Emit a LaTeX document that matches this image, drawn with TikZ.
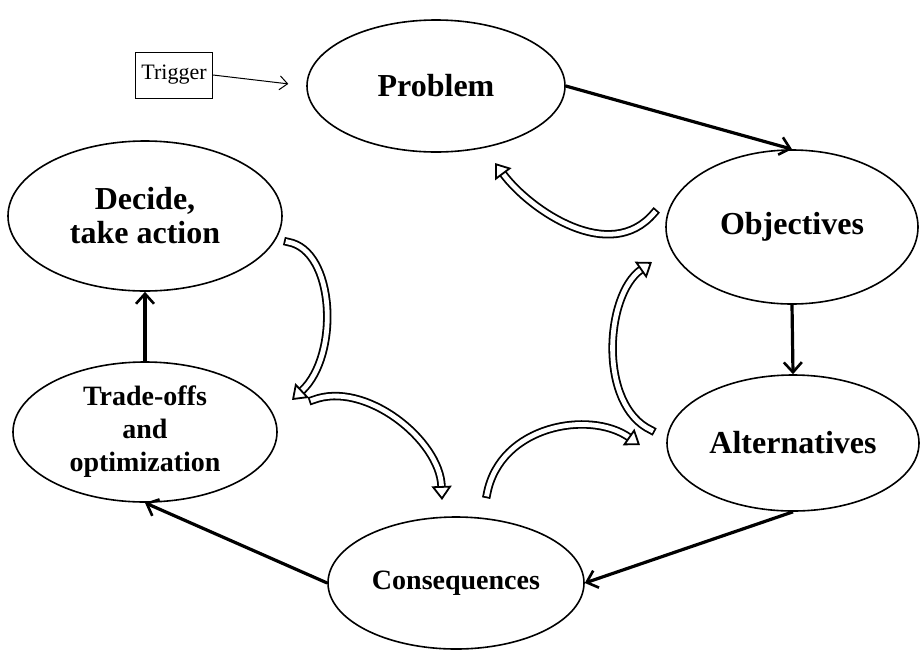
\documentclass[tikz,border=0pt]{standalone}
\usepackage{fontspec}
\setmainfont{Liberation Serif}
\usetikzlibrary{shapes.geometric,arrows.meta}

\tikzset{
  stage/.style={ellipse,draw,line width=0.8pt,inner sep=0pt,align=center,
    font=\bfseries\fontsize{16}{17}\selectfont},
  flow/.style={line width=1.6pt,-{Straight Barb[length=5pt,width=9pt,line width=1.3pt]}},
  hollow/.style={line width=0.9pt,line cap=rect,double=white,double distance=2.4pt,
    -{Triangle[open,fill=white,length=7pt,width=10pt,line width=0.9pt]}}
}

\begin{document}
\begin{tikzpicture}[x=0.5pt,y=-0.5pt]
\useasboundingbox (0,0) rectangle (920,654);

% Ellipses of the cycle
\node[stage,minimum width=129pt,minimum height=66pt] (problem) at (436,86) {Problem};
\node[stage,minimum width=126pt,minimum height=77pt] (objectives) at (792,227) {Objectives};
\node[stage,minimum width=126pt,minimum height=68pt] (alternatives) at (793,443) {Alternatives};
\node[stage,minimum width=128pt,minimum height=66pt,font=\bfseries\fontsize{14}{16}\selectfont] (consequences) at (456,583) {Consequences};
\node[stage,minimum width=132pt,minimum height=70pt,font=\bfseries\fontsize{14}{16.5}\selectfont] (tradeoffs) at (145,432) {Trade-offs\\and\\optimization};
\node[stage,minimum width=137pt,minimum height=75pt] (decide) at (145,216) {Decide,\\take action};

% Trigger
\node[draw,line width=0.5pt,minimum width=38.5pt,minimum height=23pt,inner sep=0pt,
  font=\fontsize{11}{12}\selectfont] (trigger) at (174,75) {Trigger};
\draw[line width=0.5pt,-{Straight Barb[length=4pt,width=7pt]},shorten >=9pt] (trigger.east) -- (problem.west);

% Main arrows
\draw[flow] (problem.east) -- (objectives.north);
\draw[flow] (objectives.south) -- (alternatives.north);
\draw[flow] (alternatives.south) -- (consequences.east);
\draw[flow] (consequences.west) -- (tradeoffs.south);
\draw[flow] (tradeoffs.north) -- (decide.south);

% Feedback arrows
\coordinate (back1t) at (654,213);
\coordinate (back1h) at (495,163);
\coordinate (back2t) at (288,242);
\coordinate (back2h) at (292,400);
\coordinate (back3t) at (313,400);
\coordinate (back3h) at (442,500);
\coordinate (back4t) at (651,430);
\coordinate (back4h) at (652,262);
\coordinate (back5t) at (487,494);
\coordinate (back5h) at (640,445);

\draw[hollow] (back1t) .. controls (610,265) and (530,210) .. (back1h);
\draw[hollow] (back2t) .. controls (335,250) and (340,355) .. (back2h);
\draw[hollow] (back3t) .. controls (365,380) and (440,440) .. (back3h);
\draw[hollow] (back4t) .. controls (598,405) and (605,295) .. (back4h);
\draw[hollow] (back5t) .. controls (500,425) and (590,410) .. (back5h);

\end{tikzpicture}
\end{document}
